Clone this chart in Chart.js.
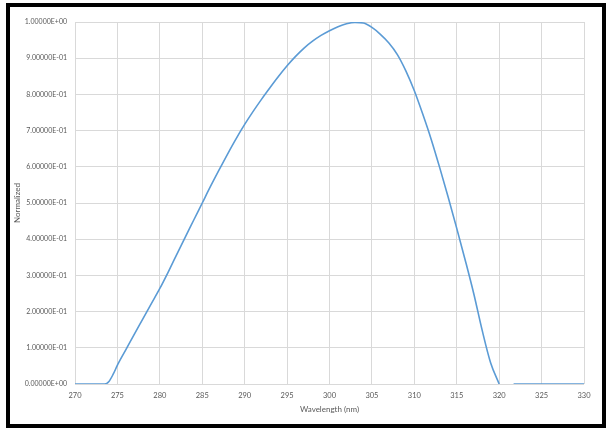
<!DOCTYPE html>
<html>
<head>
<meta charset="utf-8">
<script src="https://cdn.jsdelivr.net/npm/chart.js@4/dist/chart.umd.min.js"></script>
<style>
html,body{margin:0;padding:0;background:#fff;}
#wrap{width:610px;height:432px;position:relative;}
</style>
</head>
<body>
<div id="wrap"><canvas id="c" width="610" height="432"></canvas></div>
<script>
// Data
const wavelengths = [270, 271, 272, 273, 273.5, 274, 274.5, 275, 276, 277, 278, 279, 280, 281, 282, 283, 284, 285, 286, 287, 288, 289, 290, 291, 292, 293, 294, 295, 296, 297, 298, 299, 300, 301, 302, 303, 304, 305, 306, 307, 308, 309, 310, 311, 312, 313, 314, 315, 316, 317, 318, 319, 320, 321, 321.7, 323, 325, 327, 330];
const normalized = [0, 0, 0, 0, 0, 0.007, 0.027, 0.052, 0.095, 0.138, 0.18, 0.222, 0.264, 0.31, 0.358, 0.406, 0.453, 0.50, 0.547, 0.592, 0.636, 0.678, 0.717, 0.753, 0.787, 0.819, 0.85, 0.879, 0.905, 0.928, 0.947, 0.963, 0.976, 0.987, 0.995, 0.999, 0.997, 0.985, 0.966, 0.942, 0.91, 0.865, 0.81, 0.745, 0.675, 0.597, 0.515, 0.43, 0.342, 0.25, 0.148, 0.058, 0, null, 0, 0, 0, 0, 0];
const xTicks = [270, 275, 280, 285, 290, 295, 300, 305, 310, 315, 320, 325, 330];
const yTicks = [0, 0.1, 0.2, 0.3, 0.4, 0.5, 0.6, 0.7, 0.8, 0.9, 1.0];

function sci(v) {
  let s = Number(v).toExponential(5).toUpperCase();
  return s.replace(/E([+-])(\d)$/, 'E$10$2');
}

const points = wavelengths.map((w, i) => ({x: w, y: normalized[i]}));

const frame = {
  id: 'frame',
  afterDraw(chart) {
    const ctx = chart.ctx;
    ctx.save();
    ctx.strokeStyle = '#000';
    ctx.lineWidth = 4;
    ctx.strokeRect(8, 5, 596, 421);
    ctx.restore();
  }
};

const txt = '#595959';
new Chart(document.getElementById('c'), {
  type: 'line',
  data: {
    datasets: [{
      data: points,
      borderColor: '#5b9bd5',
      borderWidth: 1.6,
      pointRadius: 0,
      fill: false,
      spanGaps: false,
      cubicInterpolationMode: 'monotone'
    }]
  },
  options: {
    responsive: false,
    animation: false,
    devicePixelRatio: 1,
    layout: {padding: {left: 10, right: 26, top: 22, bottom: 18}},
    plugins: {legend: {display: false}, tooltip: {enabled: false}},
    scales: {
      x: {
        type: 'linear',
        min: 270, max: 330,
        afterBuildTicks(s) { s.ticks = xTicks.map(v => ({value: v})); },
        afterFit(s) { s.height = 30; },
        grid: {color: '#d9d9d9', lineWidth: 1, drawTicks: false},
        border: {display: false},
        ticks: {autoSkip: false, maxRotation: 0, padding: 7, color: txt, font: {family: 'Lato', size: 7.5}},
        title: {display: true, text: 'Wavelength (nm)', color: txt, font: {family: 'Lato', size: 8}, padding: {top: 2, bottom: 0}}
      },
      y: {
        min: 0, max: 1,
        afterBuildTicks(s) { s.ticks = yTicks.map(v => ({value: v})); },
        afterFit(s) { s.width = 65; },
        grid: {color: '#d9d9d9', lineWidth: 1, drawTicks: false},
        border: {display: false},
        ticks: {autoSkip: false, padding: 8, color: txt, font: {family: 'Lato', size: 7}, callback: v => sci(v)},
        title: {display: true, text: 'Normalized', color: txt, font: {family: 'Lato', size: 8}, padding: {top: 3, bottom: 0}}
      }
    }
  },
  plugins: [frame]
});
</script>
</body>
</html>
